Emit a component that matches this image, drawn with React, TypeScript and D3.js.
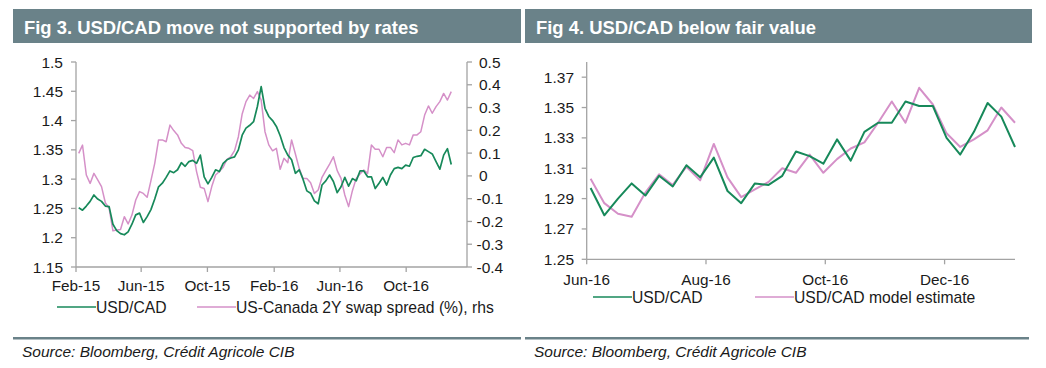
import React from 'react';
import * as d3 from 'd3';

const FONT = '"Liberation Sans", Arial, Helvetica, sans-serif';
const BAR = '#6a8289';
const GREEN = '#17895a';
const PINK = '#d590c8';
const AXIS = '#a3a3a3';
const TEXT = '#1a1a1a';

// Fig 3 - weekly readings (Fridays) starting 6 Feb 2015
const fig3Start = new Date(2015, 1, 6);
const usdcadWeekly = [
  1.251, 1.247, 1.254, 1.262, 1.273, 1.266, 1.262, 1.254, 1.253, 1.223,
  1.212, 1.207, 1.205, 1.21, 1.223, 1.239, 1.242, 1.226, 1.236, 1.248,
  1.266, 1.287, 1.293, 1.303, 1.314, 1.311, 1.316, 1.328, 1.322, 1.33,
  1.332, 1.327, 1.341, 1.304, 1.292, 1.303, 1.316, 1.313, 1.327, 1.333,
  1.336, 1.338, 1.35, 1.375, 1.387, 1.392, 1.398, 1.424, 1.458, 1.421,
  1.407, 1.4, 1.39, 1.374, 1.354, 1.341, 1.333, 1.31, 1.316, 1.3,
  1.28, 1.276, 1.263, 1.258, 1.29, 1.297, 1.307, 1.296, 1.277, 1.287,
  1.303, 1.288, 1.301, 1.297, 1.314, 1.314, 1.304, 1.304, 1.284, 1.293,
  1.303, 1.29, 1.307, 1.318, 1.32, 1.318, 1.324, 1.322, 1.337, 1.339,
  1.34, 1.351, 1.347, 1.343, 1.33, 1.317, 1.341, 1.352, 1.325,
];
const swapSpreadWeekly = [
  0.099, 0.135, 0.004, -0.033, 0.011, -0.018, -0.047, -0.118, -0.142, -0.241,
  -0.238, -0.235, -0.179, -0.211, -0.172, -0.106, -0.069, -0.077, -0.094, -0.021,
  0.055, 0.158, 0.158, 0.15, 0.223, 0.199, 0.18, 0.143, 0.125, 0.121,
  0.111, 0.019, -0.05, -0.055, -0.113, -0.047, 0.004, 0.019, 0.038, 0.073,
  0.084, 0.111, 0.172, 0.272, 0.326, 0.355, 0.34, 0.37, 0.333, 0.194,
  0.136, 0.11, 0.121, 0.029, 0.077, 0.058, 0.158, 0.096, 0.033, -0.011,
  -0.011, -0.03, -0.077, -0.062, -0.006, 0.023, 0.052, 0.084, 0.023, -0.011,
  -0.084, -0.135, -0.065, -0.011, 0.008, 0.026, 0.011, 0.136, 0.117, 0.117,
  0.084, 0.125, 0.125, 0.102, 0.158, 0.136, 0.143, 0.136, 0.18, 0.18,
  0.194, 0.267, 0.307, 0.275, 0.304, 0.326, 0.362, 0.333, 0.37,
];
const fig3LeftTicks = [1.15, 1.2, 1.25, 1.3, 1.35, 1.4, 1.45, 1.5];
const fig3RightTicks = [-0.4, -0.3, -0.2, -0.1, 0, 0.1, 0.2, 0.3, 0.4, 0.5];
const fig3Months = [
  new Date(2015, 1, 1), new Date(2015, 5, 1), new Date(2015, 9, 1),
  new Date(2016, 1, 1), new Date(2016, 5, 1), new Date(2016, 9, 1),
];

// Fig 4 - weekly readings (Fridays) starting 3 Jun 2016
const fig4Start = new Date(2016, 5, 3);
const usdcadRecent = [
  1.297, 1.279, 1.29, 1.3, 1.292, 1.305, 1.298, 1.312, 1.304, 1.317,
  1.295, 1.287, 1.3, 1.299, 1.305, 1.321, 1.318, 1.313, 1.329, 1.315,
  1.334, 1.34, 1.34, 1.354, 1.351, 1.351, 1.33, 1.319, 1.334, 1.353,
  1.344, 1.324,
];
const modelEstimate = [
  1.303, 1.287, 1.28, 1.278, 1.294, 1.306, 1.299, 1.311, 1.302, 1.326,
  1.304, 1.291, 1.296, 1.301, 1.31, 1.307, 1.319, 1.307, 1.316, 1.323,
  1.327, 1.34, 1.354, 1.34, 1.363, 1.352, 1.333, 1.324, 1.329, 1.335,
  1.35, 1.34,
];
const fig4Ticks = [1.25, 1.27, 1.29, 1.31, 1.33, 1.35, 1.37];
const fig4Months = [
  new Date(2016, 5, 1), new Date(2016, 7, 1), new Date(2016, 9, 1), new Date(2016, 11, 1),
];

const monthFmt = d3.timeFormat('%b-%y');
const num = (v: number) => String(+v.toFixed(2));

function Header({ x, w, title }: { x: number; w: number; title: string }) {
  return (
    <g>
      <rect x={x} y={9} width={w} height={34} fill={BAR} />
      <text x={x + 11} y={34} fill="#fff" fontSize={18.4} fontWeight="bold" fontFamily={FONT}>
        {title}
      </text>
    </g>
  );
}

function Footer({ x, w }: { x: number; w: number }) {
  return (
    <g>
      <rect x={x} y={337} width={w} height={2.5} fill={BAR} />
      <text x={x + 9} y={357} fontSize={15.5} fontStyle="italic" fill={TEXT} fontFamily={FONT}>
        Source: Bloomberg, Crédit Agricole CIB
      </text>
    </g>
  );
}

function LegendItem({ x, y, color, label }: { x: number; y: number; color: string; label: string }) {
  return (
    <g>
      <line x1={x} x2={x + 39} y1={y} y2={y} stroke={color} strokeWidth={1.6} />
      <text x={x + 39} y={y + 5.5} fontSize={15.7} fill={TEXT} fontFamily={FONT}>
        {label}
      </text>
    </g>
  );
}

function Fig3() {
  const x = d3.scaleTime()
    .domain([new Date(2015, 1, 1), d3.timeDay.offset(new Date(2015, 1, 1), 720)])
    .range([76, 467]);
  const yL = d3.scaleLinear().domain([1.15, 1.5]).range([267, 62]);
  const yR = d3.scaleLinear().domain([-0.4, 0.5]).range([267, 62]);
  const date = (i: number) => d3.timeWeek.offset(fig3Start, i);
  const lineL = d3.line<number>().x((_, i) => x(date(i))).y((d) => yL(d));
  const lineR = d3.line<number>().x((_, i) => x(date(i))).y((d) => yR(d));
  return (
    <g fontFamily={FONT}>
      <Header x={13} w={508} title="Fig 3. USD/CAD move not supported by rates" />
      <g stroke={AXIS} strokeWidth={1.3}>
        <line x1={76} x2={76} y1={62} y2={267} />
        <line x1={467} x2={467} y1={62} y2={267} />
        <line x1={76} x2={467} y1={267} y2={267} />
        {fig3LeftTicks.map((t) => <line key={t} x1={71} x2={76} y1={yL(t)} y2={yL(t)} />)}
        {fig3RightTicks.map((t) => <line key={t} x1={467} x2={472} y1={yR(t)} y2={yR(t)} />)}
        {fig3Months.map((d) => <line key={+d} x1={x(d)} x2={x(d)} y1={267} y2={272} />)}
      </g>
      {fig3LeftTicks.map((t) => (
        <text key={t} x={63} y={yL(t) + 5.5} textAnchor="end" fontSize={15.5} fill={TEXT}>{num(t)}</text>
      ))}
      {fig3RightTicks.map((t) => (
        <text key={t} x={t < 0 ? 476.5 : 479} y={yR(t) + 5.5} fontSize={15.5} fill={TEXT}>{num(t)}</text>
      ))}
      {fig3Months.map((d) => (
        <text key={+d} x={x(d)} y={291} textAnchor="middle" fontSize={15.3} fill={TEXT}>{monthFmt(d)}</text>
      ))}
      <path d={lineR(swapSpreadWeekly) || ''} fill="none" stroke={PINK} strokeWidth={1.5} strokeLinejoin="round" />
      <path d={lineL(usdcadWeekly) || ''} fill="none" stroke={GREEN} strokeWidth={1.7} strokeLinejoin="round" />
      <LegendItem x={57} y={307} color={GREEN} label="USD/CAD" />
      <LegendItem x={197} y={307} color={PINK} label="US-Canada 2Y swap spread (%), rhs" />
      <Footer x={13} w={508} />
    </g>
  );
}

function Fig4() {
  const x = d3.scaleTime().domain([new Date(2016, 5, 1), new Date(2017, 0, 6)]).range([586.7, 1015]);
  const y = d3.scaleLinear().domain([1.25, 1.38]).range([259.3, 62]);
  const date = (i: number) => d3.timeWeek.offset(fig4Start, i);
  const line = d3.line<number>().x((_, i) => x(date(i))).y((d) => y(d));
  return (
    <g fontFamily={FONT}>
      <Header x={525} w={507} title="Fig 4. USD/CAD below fair value" />
      <g stroke={AXIS} strokeWidth={1.3}>
        <line x1={586.7} x2={586.7} y1={62} y2={259.3} />
        <line x1={586.7} x2={1015} y1={259.3} y2={259.3} />
        {fig4Ticks.map((t) => <line key={t} x1={581.7} x2={586.7} y1={y(t)} y2={y(t)} />)}
        {fig4Months.map((d) => <line key={+d} x1={x(d)} x2={x(d)} y1={259.3} y2={264.3} />)}
      </g>
      {fig4Ticks.map((t) => (
        <text key={t} x={574} y={y(t) + 5.5} textAnchor="end" fontSize={15.5} fill={TEXT}>{num(t)}</text>
      ))}
      {fig4Months.map((d) => (
        <text key={+d} x={x(d)} y={285} textAnchor="middle" fontSize={15.3} fill={TEXT}>{monthFmt(d)}</text>
      ))}
      <path d={line(modelEstimate) || ''} fill="none" stroke={PINK} strokeWidth={2} strokeLinejoin="round" />
      <path d={line(usdcadRecent) || ''} fill="none" stroke={GREEN} strokeWidth={2} strokeLinejoin="round" />
      <LegendItem x={593} y={297} color={GREEN} label="USD/CAD" />
      <LegendItem x={755} y={297} color={PINK} label="USD/CAD model estimate" />
      <Footer x={525} w={504} />
    </g>
  );
}

export default function App() {
  return (
    <svg width={1046} height={368} style={{ position: 'absolute', left: 0, top: 0, background: '#fff' }}>
      <rect width={1046} height={368} fill="#fff" />
      <Fig3 />
      <Fig4 />
    </svg>
  );
}
